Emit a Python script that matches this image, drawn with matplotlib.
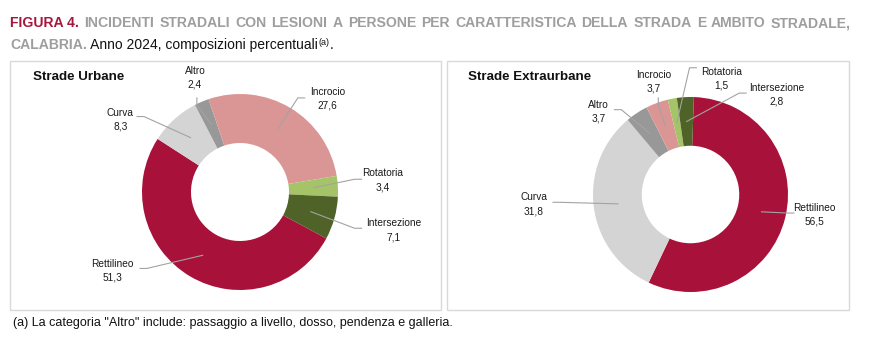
import numpy as np
import matplotlib
matplotlib.use("Agg")
import matplotlib.pyplot as plt
from matplotlib import font_manager
from matplotlib.patches import Rectangle

# data
categories = ["Rettilineo", "Curva", "Altro", "Incrocio", "Rotatoria", "Intersezione"]
urbane = [51.3, 8.3, 2.4, 27.6, 3.4, 7.1]
extraurbane = [56.5, 31.8, 3.7, 3.7, 1.5, 2.8]
colors = ["#A8123A", "#D4D4D4", "#989898", "#DA9694", "#A5C467", "#4F6228"]

W, H = 882, 351
names = {f.name for f in font_manager.fontManager.ttflist}
NARROW = "Liberation Sans Narrow" if "Liberation Sans Narrow" in names else "Liberation Sans"
SANS = "Liberation Sans"
RED = "#A6173D"
GREY_T = "#9E9E9E"
LINE = "#A3A3A3"
LBL_SIZE = 8.0 if NARROW != SANS else 7.3

# label layout in radius units: text pos, leader start, stub direction
layout_urb = {
    "Rettilineo": (-1.30, -0.80, -1.02, -0.78, "h"),
    "Curva": (-1.22, 0.74, -1.05, 0.77, "h"),
    "Altro": (-0.46, 1.17, -0.44, 0.96, "v"),
    "Incrocio": (0.89, 0.95, 0.66, 0.96, "h"),
    "Rotatoria": (1.46, 0.12, 1.24, 0.13, "h"),
    "Intersezione": (1.57, -0.39, 1.24, -0.37, "h"),
}
layout_ext = {
    "Rettilineo": (1.27, -0.21, 1.06, -0.19, "h"),
    "Curva": (-1.61, -0.10, -1.41, -0.08, "h"),
    "Altro": (-0.94, 0.85, -0.78, 0.87, "h"),
    "Incrocio": (-0.38, 1.16, -0.33, 0.99, "v"),
    "Rotatoria": (0.32, 1.19, 0.06, 1.30, "h"),
    "Intersezione": (0.88, 1.02, 0.57, 1.04, "h"),
}

fig = plt.figure(figsize=(W / 100, H / 100), dpi=100)


def px_box(x0, y0, x1, y1):
    # panel frame, pixel coords from top-left
    fig.patches.append(Rectangle((x0 / W, 1 - y1 / H), (x1 - x0) / W, (y1 - y0) / H,
                                 transform=fig.transFigure, fill=False,
                                 edgecolor="#D9D9D9", linewidth=1.0))


def donut(cx, cy, R, values, start, layout, title, tx):
    ax = fig.add_axes([(cx - 2.6 * R) / W, (H - cy - 1.4 * R) / H, 5.2 * R / W, 2.8 * R / H])
    ax.axis("off")
    wedges, _ = ax.pie(values, colors=colors, startangle=start, counterclock=False,
                       radius=1.0, wedgeprops=dict(width=0.5, linewidth=0))
    ax.set_xlim(-2.6, 2.6)
    ax.set_ylim(-1.4, 1.4)
    ax.set_aspect("auto")
    for w, cat, v in zip(wedges, categories, values):
        ang = np.deg2rad((w.theta1 + w.theta2) / 2)
        axx, ayy = 0.75 * np.cos(ang), 0.75 * np.sin(ang)
        tx_, ty_, sx, sy, stub = layout[cat]
        if stub == "h":
            ex, ey = sx + 0.07 * np.sign(axx - sx), sy
        else:
            ex, ey = sx, sy - 0.07
        ax.plot([sx, ex, axx], [sy, ey, ayy], color=LINE, lw=0.8, clip_on=False)
        ax.text(tx_, ty_, f"{cat}\n{v:.1f}".replace(".", ","), ha="center", va="center",
                multialignment="center", fontsize=LBL_SIZE, family=NARROW, linespacing=1.45,
                color="#1A1A1A")
    fig.text(tx / W, 1 - 77 / H, title, fontsize=9.6, fontweight="bold", family=SANS,
             va="center", ha="left", color="#111111")


px_box(10, 61, 441, 310)
px_box(447, 61, 849, 310)
donut(240, 192, 98, urbane, 90 - 118.3, layout_urb, "Strade Urbane", 33)
donut(690.5, 194.5, 97.5, extraurbane, 88, layout_ext, "Strade Extraurbane", 468)

# title with mixed styles
r = fig.canvas.get_renderer()


def put(x, y, s, **kw):
    t = fig.text(x / W, 1 - y / H, s, va="baseline", ha="left", **kw)
    bb = t.get_window_extent(renderer=r)
    return x + bb.width


words = "INCIDENTI STRADALI CON LESIONI A PERSONE PER CARATTERISTICA DELLA STRADA E AMBITO STRADALE,".split()
tkw = dict(fontsize=10.1, fontweight="bold", family=SANS)
x = put(10, 27.3, "FIGURA 4.", color=RED, **tkw)
# justify the first line to the right edge
widths = []
for wd in words:
    t = fig.text(0, 0, wd, **tkw)
    widths.append(t.get_window_extent(renderer=r).width)
    t.remove()
gap = (851 - x - sum(widths)) / len(words)
for wd, wdt in zip(words, widths):
    x += gap
    put(x, 27.3, wd, color=GREY_T, **tkw)
    x += wdt

x = put(10, 49.3, "CALABRIA.", color=GREY_T, **tkw)
x = put(x, 49.3, " Anno 2024, composizioni percentuali", fontsize=10, family=SANS, color="#111111")
x = put(x + 1, 45.0, "(a)", fontsize=6.5, family=SANS, color="#111111")
put(x, 49.3, ".", fontsize=10, family=SANS, color="#111111")

fig.text(13 / W, 1 - 326 / H, '(a) La categoria "Altro" include: passaggio a livello, dosso, pendenza e galleria.',
         fontsize=9.0, family=SANS, va="baseline", ha="left", color="#111111")

fig.savefig("out.png", dpi=100)
